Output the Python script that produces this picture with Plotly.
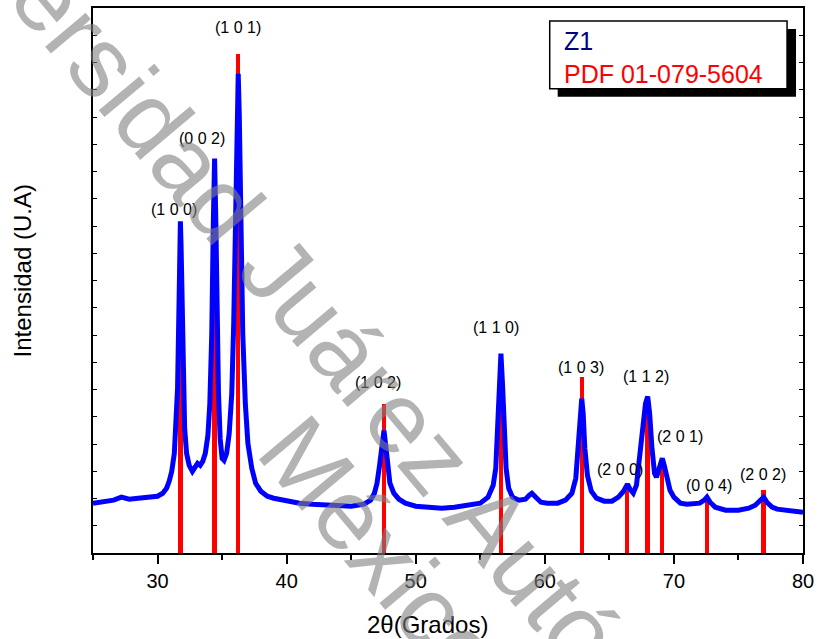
import plotly.graph_objects as go

# Observed XRD pattern (Z1): 2theta (deg) and intensity (arbitrary units)
two_theta = [25.0, 25.8, 26.6, 27.2, 27.8, 28.5, 29.2, 29.8, 30.0, 30.4, 30.7, 30.9, 31.1, 31.3,
             31.45, 31.55, 31.65, 31.72, 31.77, 31.82, 31.9, 32.0, 32.1, 32.25, 32.45, 32.7,
             32.9, 33.1, 33.3, 33.5, 33.7, 33.9, 34.05, 34.2, 34.32, 34.42, 34.52, 34.62,
             34.72, 34.85, 35.0, 35.15, 35.35, 35.55, 35.75, 35.9, 36.05, 36.17, 36.25, 36.33,
             36.45, 36.6, 36.8, 37.0, 37.3, 37.6, 38.0, 38.5, 39.0, 40.0, 41.0, 42.0, 43.0,
             44.0, 45.0, 46.0, 46.5, 46.8, 47.0, 47.2, 47.35, 47.54, 47.7, 47.85, 48.0, 48.3,
             48.7, 49.2, 50.0, 51.0, 52.0, 53.0, 54.0, 55.0, 55.6, 56.0, 56.2, 56.35, 56.48,
             56.6, 56.72, 56.85, 57.0, 57.2, 57.5, 58.0, 58.5, 58.8, 59.0, 59.3, 59.7, 60.2,
             61.0, 61.6, 62.1, 62.4, 62.6, 62.75, 62.86, 62.97, 63.1, 63.3, 63.6, 64.0, 64.6,
             65.2, 65.7, 66.1, 66.4, 66.6, 66.85, 67.1, 67.35, 67.6, 67.8, 67.97, 68.12, 68.3,
             68.5, 68.65, 68.8, 68.95, 69.1, 69.25, 69.45, 69.7, 70.0, 70.5, 71.0, 71.5, 72.0,
             72.35, 72.56, 72.8, 73.2, 74.0, 75.0, 75.8, 76.3, 76.7, 76.95, 77.2, 77.6, 78.0,
             79.0, 80.0]
intensity = [50, 52, 53, 56, 54, 55, 56, 57, 57, 60, 65, 72, 82, 100,
             130, 165, 240, 310, 333, 310, 240, 165, 125, 100, 88, 82,
             86, 90, 88, 92, 100, 118, 150, 220, 330, 396, 330, 230,
             160, 115, 95, 93, 100, 120, 160, 230, 340, 440, 481, 440,
             330, 220, 150, 110, 85, 70, 62, 57, 55, 52, 50, 49, 48,
             47, 47, 49, 53, 60, 70, 88, 105, 123, 105, 85, 70, 60,
             54, 50, 47, 46, 45, 46, 48, 50, 56, 68, 85, 120, 170,
             200, 170, 120, 85, 65, 56, 53, 54, 58, 60, 56, 51, 50,
             50, 53, 60, 75, 105, 140, 155, 140, 105, 78, 62, 55, 52,
             52, 56, 62, 69, 64, 60, 68, 95, 125, 150, 157, 140, 105,
             80, 76, 82, 92, 95, 88, 75, 63, 56, 50, 49, 50, 50,
             53, 56, 51, 46, 43, 43, 45, 48, 53, 56, 51, 46, 44,
             42, 41]

# Reference pattern PDF 01-079-5604
pdf_pos = [31.77, 34.42, 36.25, 47.54, 56.60, 62.86, 66.38, 67.96, 69.10, 72.56, 76.95]
pdf_int = [305, 246, 501, 150, 191, 177, 63, 150, 95, 54, 63]

# Miller indices labels and their positions
hkl_labels = ["(1 0 0)", "(0 0 2)", "(1 0 1)", "(1 0 2)", "(1 1 0)", "(1 0 3)",
              "(2 0 0)", "(1 1 2)", "(2 0 1)", "(0 0 4)", "(2 0 2)"]
hkl_x = [31.31, 33.47, 36.2, 47.07, 56.2, 62.83, 65.85, 67.87, 70.5, 72.7, 76.9]
hkl_y = [345, 416, 527, 171, 226, 186, 84, 177, 117, 68, 79]

x_ticks = [30, 40, 50, 60, 70, 80]

FONT = "Arial, Liberation Sans, sans-serif"

fig = go.Figure()
fig.add_trace(go.Scatter(x=two_theta, y=intensity, mode="lines",
                         line=dict(color="#0000FF", width=5), name="Z1",
                         showlegend=False))
fig.add_trace(go.Bar(x=pdf_pos, y=pdf_int, width=0.34, marker_color="#FF0000",
                     marker_line_width=0, name="PDF 01-079-5604", showlegend=False))

for t, xx, yy in zip(hkl_labels, hkl_x, hkl_y):
    fig.add_annotation(x=xx, y=yy, text=t, showarrow=False, xanchor="center", yanchor="middle",
                       font=dict(family=FONT, size=16, color="black"))

# axis titles
fig.add_annotation(xref="paper", yref="paper", x=0.4705, y=-0.1316, text="2θ(Grados)",
                   xanchor="center", yanchor="middle",
                   showarrow=False, font=dict(family=FONT, size=24, color="black"))
fig.add_annotation(xref="paper", yref="paper", x=-0.0997, y=0.517, text="Intensidad (U.A)",
                   xanchor="center", yanchor="middle",
                   textangle=-90, showarrow=False, font=dict(family=FONT, size=24, color="black"))

# legend box with shadow
def px2paper(px, py):
    return (px - 93) / 712.0, (553 - py) / 547.0

sx0, sy0 = px2paper(559, 95)
sx1, sy1 = px2paper(798, 27)
fig.add_shape(type="rect", xref="paper", yref="paper", x0=sx0, y0=sy0, x1=sx1, y1=sy1,
              fillcolor="black", line=dict(width=0))
bx0, by0 = px2paper(551, 87)
bx1, by1 = px2paper(789, 19)
fig.add_shape(type="rect", xref="paper", yref="paper", x0=bx0, y0=by0, x1=bx1, y1=by1,
              fillcolor="white", line=dict(color="black", width=1.5))
lx, ly1 = px2paper(563, 39)
_, ly2 = px2paper(563, 72)
fig.add_annotation(xref="paper", yref="paper", x=lx, y=ly1, xanchor="left", yanchor="middle",
                   text="Z1", showarrow=False, font=dict(family=FONT, size=25, color="#000080"))
fig.add_annotation(xref="paper", yref="paper", x=lx, y=ly2, xanchor="left", yanchor="middle",
                   text="PDF 01-079-5604", showarrow=False,
                   font=dict(family=FONT, size=25, color="#FF0000"))

# watermark
wx, wy = px2paper(506, 540)
fig.add_annotation(xref="paper", yref="paper", x=wx, y=wy, xanchor="center", yanchor="middle",
                   text="Universidad Juárez Autónoma de Tabasco", textangle=50,
                   showarrow=False, font=dict(family=FONT, size=100, color="rgba(128,128,128,0.6)"))
mx, my = px2paper(383, 552)
fig.add_annotation(xref="paper", yref="paper", x=mx, y=my, xanchor="center", yanchor="middle",
                   text="México", textangle=50,
                   showarrow=False, font=dict(family=FONT, size=100, color="rgba(128,128,128,0.6)"))

fig.update_layout(
    width=820, height=639,
    margin=dict(l=93, r=15, t=6, b=86),
    plot_bgcolor="white", paper_bgcolor="white",
    bargap=0,
    font=dict(family=FONT, color="black"),
    xaxis=dict(range=[25, 80], tickvals=x_ticks, ticks="outside", ticklen=9, tickwidth=1.5,
               tickcolor="black", showline=True, linecolor="black", linewidth=2, mirror=True,
               showgrid=False, zeroline=False, tickfont=dict(size=20, family=FONT),
               minor=dict(tickvals=[25, 35, 45, 55, 65, 75], ticks="outside", ticklen=5,
                          tickwidth=1.5, tickcolor="black")),
    yaxis=dict(range=[0, 547], dtick=27.35, tick0=0, ticks="inside", ticklen=4, tickwidth=1,
               tickcolor="black", showticklabels=False, showline=True, linecolor="black",
               linewidth=2, mirror="allticks", showgrid=False, zeroline=False),
)

fig.write_html("out.html", config={"displayModeBar": False},
               post_script="document.body.style.margin='0';")
